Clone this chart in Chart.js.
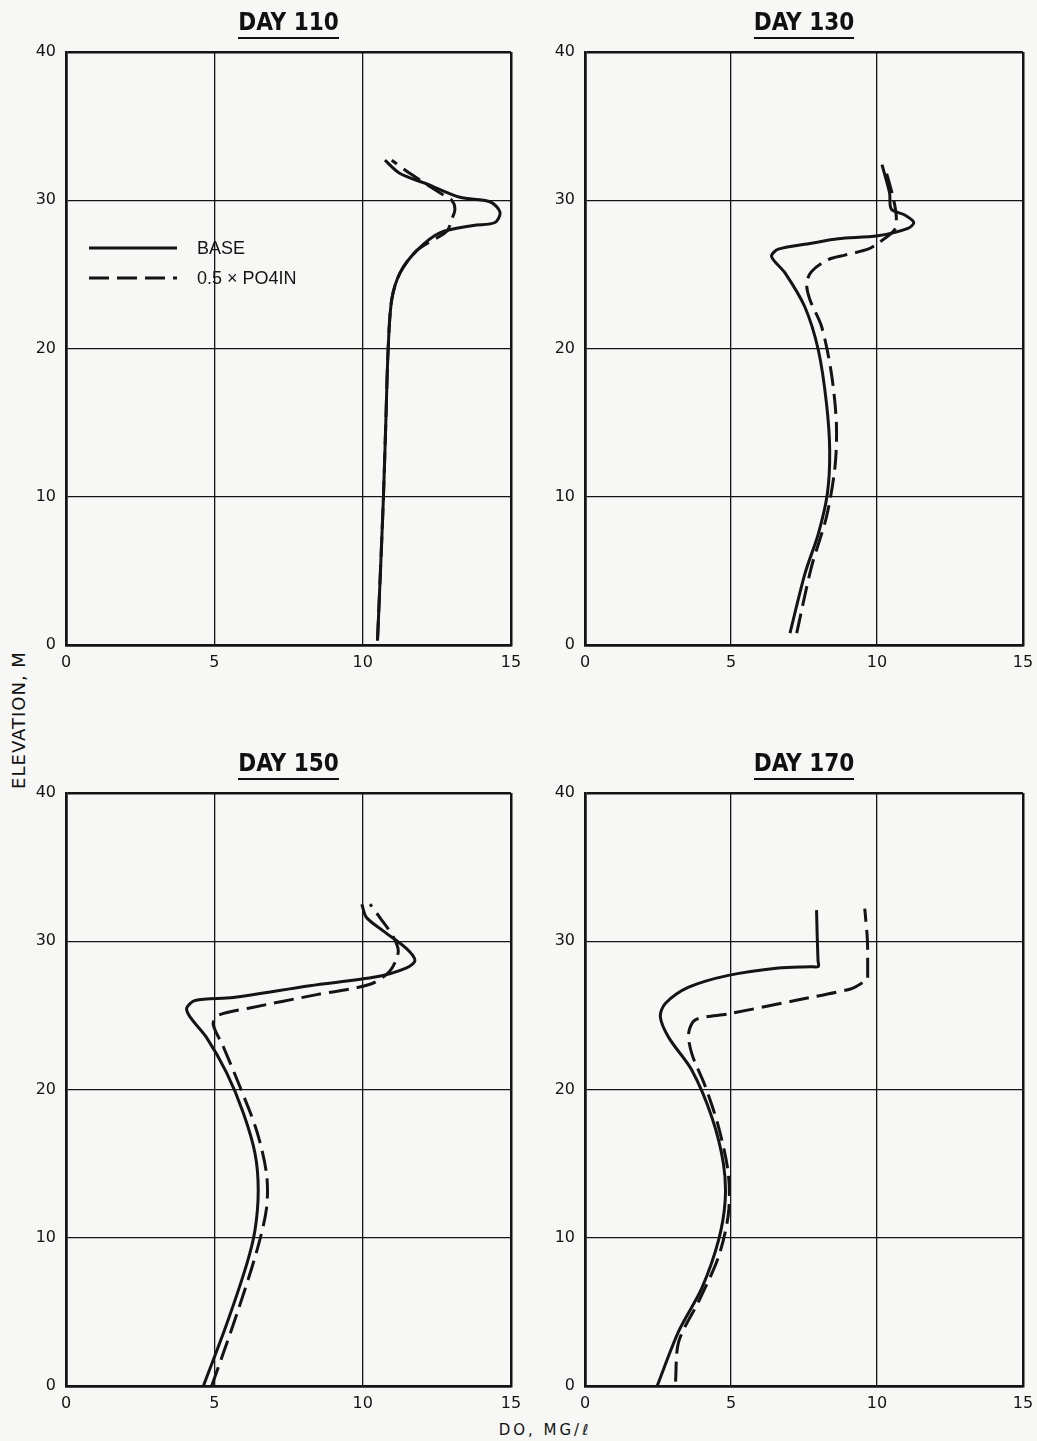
<!DOCTYPE html>
<html>
<head>
<meta charset="utf-8">
<script src="https://cdn.jsdelivr.net/npm/chart.js@4.4.0/dist/chart.umd.min.js"></script>
<style>
  body { margin: 0; background: #f7f7f5; width: 1037px; height: 1441px; position: relative; overflow: hidden; }
  canvas { position: absolute; }
  .title { position: absolute; width: 200px; text-align: center; color: #111;
           font-family: "Liberation Sans Narrow", "DejaVu Sans Condensed", sans-serif;
           font-weight: bold; font-size: 24px; }
  .title span { display: inline-block; line-height: 24px; padding-bottom: 3px; border-bottom: 2.5px solid #111; }
  #ylab { position: absolute; left: 18px; top: 720px; transform: translate(-50%, -50%) rotate(-90deg);
          font-family: "DejaVu Sans", sans-serif; font-size: 18px; letter-spacing: 1px; color: #111; white-space: nowrap; }
  #xlab { position: absolute; left: 545px; top: 1430px; transform: translate(-50%, -50%);
          font-family: "DejaVu Sans", sans-serif; font-size: 15px; letter-spacing: 3px; color: #111; white-space: nowrap; }
</style>
</head>
<body>
<div id="ylab">ELEVATION, M</div>
<div id="xlab">DO, MG/ℓ</div>

<script>
// tick values and labels
const xTicks = [0, 5, 10, 15];
const yTicks = [0, 10, 20, 30, 40];
const dayLabels = ['DAY 110', 'DAY 130', 'DAY 150', 'DAY 170'];
const seriesNames = ['BASE', '0.5 \u00d7 PO4IN'];

// DAY 110
const day110BaseElev = [0.3, 5, 10, 15, 20, 23.3, 25.1, 26.6, 27.8, 28.3, 28.5, 29.2, 29.9, 30.2, 31.1, 31.8, 32.7];
const day110BaseDO   = [10.5, 10.6, 10.7, 10.78, 10.86, 10.98, 11.26, 11.82, 12.6, 13.73, 14.46, 14.63, 14.29, 13.28, 12.16, 11.26, 10.75];
const day110AltElev  = [0.3, 5, 10, 15, 20, 23.3, 25.1, 26.6, 27.9, 28.7, 29.4, 30.0, 30.5, 31.8, 32.7];
const day110AltDO    = [10.5, 10.6, 10.7, 10.78, 10.86, 10.98, 11.26, 11.82, 12.83, 13.0, 13.11, 13.0, 12.6, 11.6, 10.98];

// DAY 130
const day130BaseElev = [0.8, 4.8, 7.5, 10.2, 13.1, 16.3, 19.9, 22.8, 25.1, 26.2, 26.7, 27.1, 27.4, 27.6, 28.1, 28.5, 29.0, 29.4, 30.5, 32.4];
const day130BaseDO   = [7.02, 7.53, 7.99, 8.30, 8.38, 8.27, 7.99, 7.53, 6.85, 6.39, 6.62, 7.76, 8.67, 10.03, 11.06, 11.26, 10.95, 10.49, 10.43, 10.17];
const day130AltElev  = [0.8, 5.3, 8.65, 12.0, 14.9, 18.3, 21.5, 23.3, 24.4, 25.2, 26.0, 26.3, 26.7, 27.1, 28.0, 28.9, 30.2, 32.3];
const day130AltDO    = [7.25, 7.76, 8.27, 8.56, 8.61, 8.44, 8.10, 7.70, 7.59, 7.76, 8.33, 8.9, 9.69, 10.03, 10.6, 10.66, 10.55, 10.26];

// DAY 150
const day150BaseElev = [0, 4.2, 8.2, 10.5, 13.2, 15.7, 18.4, 21.1, 23.5, 24.9, 25.5, 26.0, 26.2, 27.0, 27.6, 28.2, 28.7, 29.5, 30.7, 31.6, 32.5];
const day150BaseDO   = [4.63, 5.42, 6.09, 6.37, 6.48, 6.37, 5.98, 5.42, 4.74, 4.18, 4.07, 4.35, 5.64, 8.22, 10.47, 11.48, 11.76, 11.48, 10.69, 10.13, 9.97];
const day150AltElev  = [0, 4.8, 9.1, 12.0, 14.3, 17.2, 20.2, 22.9, 24.4, 25.0, 25.5, 26.4, 27.1, 28.0, 29.3, 30.3, 31.6, 32.5];
const day150AltDO    = [4.91, 5.75, 6.43, 6.76, 6.76, 6.43, 5.86, 5.30, 4.96, 5.13, 6.20, 8.45, 10.25, 10.92, 11.2, 11.03, 10.58, 10.25];

// DAY 170
const day170BaseElev = [0, 3.7, 6.6, 9.8, 12.5, 15.0, 18.1, 21.3, 23.5, 24.9, 25.8, 26.9, 27.7, 28.2, 28.28, 28.3, 28.7, 30.5, 32.1];
const day170BaseDO   = [2.47, 3.21, 4.0, 4.57, 4.80, 4.74, 4.35, 3.66, 2.87, 2.58, 2.75, 3.55, 4.91, 6.62, 7.7, 7.99, 7.98, 7.95, 7.93];
const day170AltElev  = [0.3, 3.0, 5.7, 8.7, 11.6, 14.3, 17.5, 20.2, 22.4, 23.8, 24.7, 25.1, 26.0, 26.8, 27.25, 27.4, 27.8, 30.1, 32.2];
const day170AltDO    = [3.1, 3.21, 3.89, 4.57, 4.91, 4.91, 4.57, 4.12, 3.66, 3.55, 3.78, 4.91, 7.19, 9.12, 9.55, 9.67, 9.68, 9.67, 9.58];

const INK = '#141414';
const DASH = [20, 8];

// where each panel sits on the page
const panels = [
  { title: dayLabels[0], left: 0,   top: 0,   w: 525, h: 690, plotL: 66,  plotT: 52,  plotR: 511,  plotB: 645,
    base: [day110BaseDO, day110BaseElev], alt: [day110AltDO, day110AltElev], legend: true },
  { title: dayLabels[1], left: 520, top: 0,   w: 517, h: 690, plotL: 585, plotT: 52,  plotR: 1023, plotB: 645,
    base: [day130BaseDO, day130BaseElev], alt: [day130AltDO, day130AltElev] },
  { title: dayLabels[2], left: 0,   top: 740, w: 525, h: 700, plotL: 66,  plotT: 793, plotR: 511,  plotB: 1386,
    base: [day150BaseDO, day150BaseElev], alt: [day150AltDO, day150AltElev] },
  { title: dayLabels[3], left: 520, top: 740, w: 517, h: 700, plotL: 585, plotT: 793, plotR: 1023, plotB: 1386,
    base: [day170BaseDO, day170BaseElev], alt: [day170AltDO, day170AltElev] }
];

const toPoints = (xs, ys) => ys.map((y, i) => ({ x: xs[i], y: y }));

const profile = (label, pair, dash) => ({
  label: label,
  data: toPoints(pair[0], pair[1]),
  showLine: true,
  borderColor: INK,
  borderWidth: 3,
  borderDash: dash,
  pointRadius: 0,
  tension: 0.3,
  fill: false
});

// little legend in the first panel
const legendPlugin = {
  id: 'profileLegend',
  afterDraw(chart) {
    const { ctx, chartArea } = chart;
    const x0 = chartArea.left + 23, x1 = chartArea.left + 111, tx = chartArea.left + 131;
    const rows = [[chartArea.top + 196, []], [chartArea.top + 226, DASH]];
    ctx.save();
    ctx.strokeStyle = INK;
    ctx.fillStyle = INK;
    ctx.lineWidth = 3;
    ctx.font = '18px "Liberation Sans", sans-serif';
    ctx.textBaseline = 'middle';
    rows.forEach((r, i) => {
      ctx.setLineDash(r[1]);
      ctx.beginPath();
      ctx.moveTo(x0, r[0]);
      ctx.lineTo(x1, r[0]);
      ctx.stroke();
      ctx.fillText(seriesNames[i], tx, r[0] + 1);
    });
    ctx.restore();
  }
};

const edgeWidth = (max) => (c) => (c.tick && (c.tick.value === 0 || c.tick.value === max)) ? 2.5 : 1.3;
const tickFont = { family: '"DejaVu Sans", sans-serif', size: 16 };

panels.forEach((p) => {
  const cv = document.createElement('canvas');
  cv.width = p.w;
  cv.height = p.h;
  cv.style.left = p.left + 'px';
  cv.style.top = p.top + 'px';
  document.body.appendChild(cv);

  const t = document.createElement('div');
  t.className = 'title';
  t.style.left = ((p.plotL + p.plotR) / 2 - 100) + 'px';
  t.style.top = (p.plotT - 44) + 'px';
  const s = document.createElement('span');
  s.textContent = p.title;
  t.appendChild(s);
  document.body.appendChild(t);

  new Chart(cv, {
    type: 'scatter',
    data: {
      datasets: [
        profile(seriesNames[0], p.base, []),
        profile(seriesNames[1], p.alt, DASH)
      ]
    },
    options: {
      responsive: false,
      animation: false,
      layout: { padding: { top: p.plotT - p.top, right: p.left + p.w - p.plotR, left: 0, bottom: 0 } },
      plugins: { legend: { display: false }, tooltip: { enabled: false } },
      scales: {
        x: {
          type: 'linear',
          min: xTicks[0],
          max: xTicks[xTicks.length - 1],
          afterBuildTicks: (sc) => { sc.ticks = xTicks.map(v => ({ value: v })); },
          afterFit: (sc) => { sc.height = p.top + p.h - p.plotB; sc.paddingLeft = 0; sc.paddingRight = 0; },
          grid: { color: INK, lineWidth: edgeWidth(15), drawTicks: false },
          border: { color: INK, width: 2.5 },
          ticks: { color: INK, padding: 8, font: tickFont }
        },
        y: {
          type: 'linear',
          min: yTicks[0],
          max: yTicks[yTicks.length - 1],
          afterBuildTicks: (sc) => { sc.ticks = yTicks.map(v => ({ value: v })); },
          afterFit: (sc) => { sc.width = p.plotL - p.left; sc.paddingTop = 0; sc.paddingBottom = 0; },
          grid: { color: INK, lineWidth: edgeWidth(40), drawTicks: false },
          border: { color: INK, width: 2.5 },
          ticks: { color: INK, padding: 10, font: tickFont }
        }
      }
    },
    plugins: p.legend ? [legendPlugin] : []
  });
});
</script>
</body>
</html>
